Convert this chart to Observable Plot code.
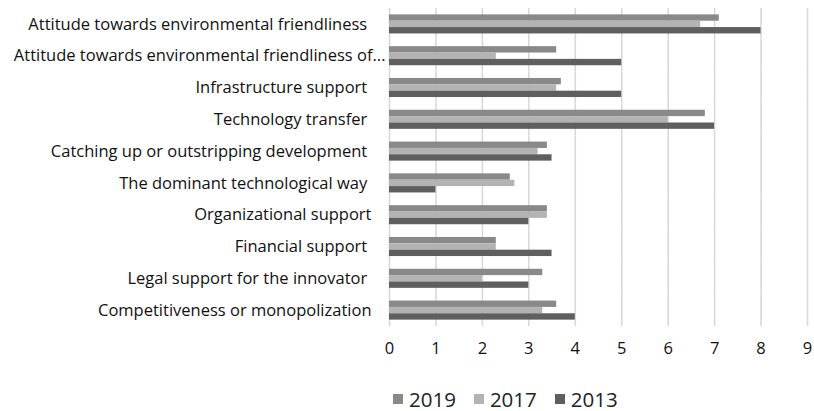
<!DOCTYPE html>
<html><head><meta charset="utf-8">
<script src="https://cdn.jsdelivr.net/npm/d3@7"></script>
<script src="https://cdn.jsdelivr.net/npm/@observablehq/plot@0.6"></script>
<style>
body{margin:0;background:#fff;font-family:"Open Sans",Arial,sans-serif;}
#chart svg{display:block;}
#legend{margin-left:393px;margin-top:16px;}
#legend .lg-swatch{margin-right:18px;font-size:20.5px;color:#222;}
#legend .lg-swatch > svg{margin-right:6px;}
#legend .lg-swatches{font-size:20.5px;font-family:"Open Sans",Arial,sans-serif;}
</style></head><body>
<div id="chart"></div>
<div id="legend"></div>
<script>
const categories = [
  "Attitude towards environmental friendliness\u00a0",
  "Attitude towards environmental friendliness of...",
  "Infrastructure support\u00a0",
  "Technology transfer\u00a0",
  "Catching up or outstripping development\u00a0",
  "The dominant technological way\u00a0",
  "Organizational support",
  "Financial support\u00a0",
  "Legal support for the innovator\u00a0",
  "Competitiveness or monopolization"
];
const years = ["2019", "2017", "2013"];
const values2019 = [7.1, 3.6, 3.7, 6.8, 3.4, 2.6, 3.4, 2.3, 3.3, 3.6];
const values2017 = [6.7, 2.3, 3.6, 6.0, 3.2, 2.7, 3.4, 2.3, 2.0, 3.3];
const values2013 = [8.0, 5.0, 5.0, 7.0, 3.5, 1.0, 3.0, 3.5, 3.0, 4.0];
const xTicks = [0, 1, 2, 3, 4, 5, 6, 7, 8, 9];
const colors = ["#898989", "#b3b3b3", "#5f5f5f"];

const series = [values2019, values2017, values2013];
const data = categories.flatMap((c, i) =>
  years.map((y, j) => ({category: c, year: y, value: series[j][i]})));
const truncated = categories.filter((c) => c.endsWith("..."));
const regular = categories.filter((c) => !c.endsWith("..."));

const font = '"Open Sans", Arial, sans-serif';
const plot = Plot.plot({
  width: 814, height: 366,
  marginTop: 8, marginBottom: 40, marginLeft: 389, marginRight: 7,
  style: {fontSize: "16.5px", fontFamily: font, color: "#111", background: "#fff"},
  x: {domain: [0, 9], ticks: xTicks, tickSize: 0, tickPadding: 16, label: null},
  y: {domain: years, paddingInner: 0, paddingOuter: 1, round: false, axis: null},
  fy: {domain: categories, paddingInner: 0, paddingOuter: 0, round: false, label: null, axis: null},
  color: {domain: years, range: colors},
  marks: [
    Plot.gridX(xTicks, {stroke: "#d9d9d9", strokeOpacity: 1, strokeWidth: 1.6}),
    Plot.barX(data, {x: "value", y: "year", fy: "category", fill: "year"}),
    Plot.axisFy({ticks: regular, anchor: "left", tickSize: 0, tickPadding: 18, label: null}),
    Plot.axisFy({ticks: truncated, anchor: "left", tickSize: 0, tickPadding: 4, label: null})
  ]
});
document.getElementById("chart").append(plot);
const lg = Plot.legend({color: {domain: years, range: colors}, legend: "swatches", swatchSize: 10, className: "lg"});
document.getElementById("legend").append(lg);
</script></body></html>
